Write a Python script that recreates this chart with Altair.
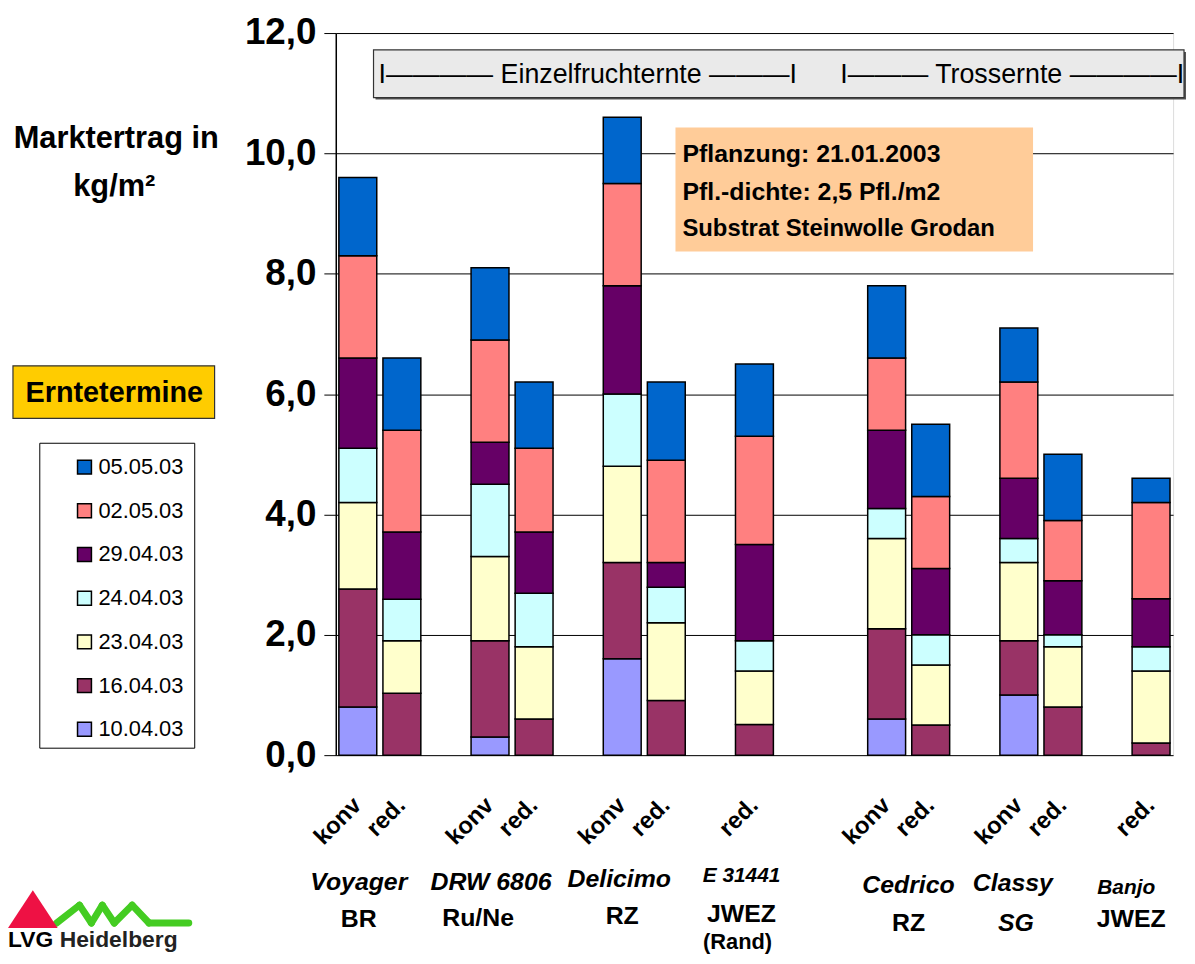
import altair as alt
import pandas as pd

FONT = "Liberation Sans"
OX, OY = 338, 30  # page position of plot origin

# ---------------- data ----------------
dates = ["10.04.03", "16.04.03", "23.04.03", "24.04.03", "29.04.03", "02.05.03", "05.05.03"]
colors = ["#9999FF", "#993366", "#FFFFCC", "#CCFFFF", "#660066", "#FF8080", "#0066CC"]

n_slots = 19
bar_slot = [0, 1, 3, 4, 6, 7, 9, 12, 13, 15, 16, 18]
bar_label = ["konv", "red.", "konv", "red.", "konv", "red.", "red.", "konv", "red.", "konv", "red.", "red."]

v_1004 = [0.8, 0.0, 0.3, 0.0, 1.6, 0.0, 0.0, 0.6, 0.0, 1.0, 0.0, 0.0]
v_1604 = [1.96, 1.03, 1.6, 0.6, 1.6, 0.91, 0.51, 1.5, 0.5, 0.9, 0.8, 0.2]
v_2304 = [1.44, 0.87, 1.4, 1.2, 1.6, 1.29, 0.89, 1.5, 1.0, 1.3, 1.0, 1.2]
v_2404 = [0.9, 0.69, 1.2, 0.89, 1.2, 0.59, 0.5, 0.5, 0.5, 0.4, 0.2, 0.4]
v_2904 = [1.5, 1.12, 0.7, 1.02, 1.8, 0.41, 1.6, 1.3, 1.1, 1.0, 0.9, 0.8]
v_0205 = [1.7, 1.69, 1.7, 1.39, 1.7, 1.7, 1.8, 1.2, 1.2, 1.6, 1.0, 1.6]
v_0505 = [1.3, 1.2, 1.2, 1.1, 1.1, 1.3, 1.2, 1.2, 1.2, 0.9, 1.1, 0.4]
series = [v_1004, v_1604, v_2304, v_2404, v_2904, v_0205, v_0505]

y_ticks = [0, 2, 4, 6, 8, 10, 12]

# variety labels: (line1, line2, line3, anchor slot)
var_line1 = ["Voyager", "DRW 6806", "Delicimo", "E 31441", "Cedrico", "Classy", "Banjo"]
var_line2 = ["BR", "Ru/Ne", "RZ", "JWEZ", "RZ", "SG", "JWEZ"]
var_line3 = ["", "", "", "(Rand)", "", "", ""]
var_slot = [0, 3, 6, 9, 12, 15, 18]

slot_ids = [f"s{i:02d}" for i in range(n_slots)]

rows = []
for i, (s, lab) in enumerate(zip(bar_slot, bar_label)):
    for di, (d, ser) in enumerate(zip(dates, series)):
        if ser[i] > 0:
            rows.append({"slot": slot_ids[s], "lab": lab, "date": d, "di": di, "value": ser[i]})
bars_df = pd.DataFrame(rows)
labels_df = pd.DataFrame({"slot": [slot_ids[s] for s in bar_slot], "lab": bar_label})

xscale = alt.Scale(domain=slot_ids, paddingInner=0.14, paddingOuter=0.07)
yscale = alt.Scale(domain=[0, 12], nice=False)

legend_dom = dates[::-1]
legend_rng = colors[::-1]

one = pd.DataFrame({"a": [0]})

bars = alt.Chart(bars_df).mark_bar(stroke="black", strokeWidth=1.5).encode(
    x=alt.X("slot:N", scale=xscale, sort=slot_ids,
            axis=alt.Axis(labels=False, title=None, ticks=True, tickBand="extent", tickSize=7,
                          tickColor="black", domainColor="black", domainWidth=1.5, grid=False)),
    y=alt.Y("value:Q", stack="zero", scale=yscale,
            axis=alt.Axis(values=y_ticks, title=None, grid=True, gridColor="black", gridWidth=1,
                          tickColor="black", tickSize=12, labelPadding=8,
                          labelExpr="replace(format(datum.value, '.1f'), '.', ',')",
                          labelFont=FONT, labelFontSize=37, labelFontWeight="bold",
                          labelColor="black", domainColor="black", domainWidth=1.5)),
    color=alt.Color("date:N", scale=alt.Scale(domain=legend_dom, range=legend_rng),
                    legend=alt.Legend(orient="none", legendX=74 - OX, legendY=456 - OY, title=None,
                                      symbolType="square", symbolSize=196, symbolStrokeColor="black",
                                      symbolStrokeWidth=1.5, labelFont=FONT, labelFontSize=22,
                                      labelColor="black", rowPadding=22, labelOffset=3, padding=0)),
    order=alt.Order("di:Q", sort="ascending"),
)


def rect(x1, y1, x2, y2, fill, stroke=None, sw=1):
    kw = dict(fill=fill)
    if stroke:
        kw.update(stroke=stroke, strokeWidth=sw)
    return alt.Chart(one).mark_rect(**kw).encode(
        x=alt.value(x1 - OX), x2=alt.value(x2 - OX), y=alt.value(y1 - OY), y2=alt.value(y2 - OY))


def txt(text, x, y, size, weight="bold", style="normal", align="center", baseline="middle", color="black"):
    return alt.Chart(one).mark_text(text=text, font=FONT, fontSize=size, fontWeight=weight,
                                    fontStyle=style, align=align, baseline=baseline, color=color).encode(
        x=alt.value(x - OX), y=alt.value(y - OY))


def slot_txt(text, slot, dx, y, size, weight="bold", style="normal"):
    df = pd.DataFrame({"slot": [slot_ids[slot]]})
    return alt.Chart(df).mark_text(text=text, font=FONT, fontSize=size, fontWeight=weight,
                                   fontStyle=style, align="center", baseline="middle", dx=dx,
                                   color="black").encode(
        x=alt.X("slot:N", scale=xscale, sort=slot_ids, axis=None), y=alt.value(y - OY))


# rotated konv / red. labels below each bar
bar_labels = alt.Chart(labels_df).mark_text(font=FONT, fontSize=24, fontWeight="bold", angle=315,
                                            align="right", baseline="middle", color="black").encode(
    x=alt.X("slot:N", scale=xscale, sort=slot_ids, axis=None), y=alt.value(804 - OY), text="lab:N")

layers = [bars, bar_labels]

# variety labels
l1_dx = [1, 1, -3, -13, 22, -6, -25]
l1_y = [885, 885, 882, 879, 888, 886, 891]
l1_size = [25, 25, 25, 21, 25, 25, 21]
l2_dx = [1, -12, 0, -13, 22, -3, -20]
l2_y = [922, 921, 919, 917, 926, 926, 922]
l2_style = ["normal", "normal", "normal", "normal", "normal", "italic", "normal"]
for k in range(len(var_line1)):
    layers.append(slot_txt(var_line1[k], var_slot[k], l1_dx[k], l1_y[k], l1_size[k], style="italic"))
    layers.append(slot_txt(var_line2[k], var_slot[k], l2_dx[k], l2_y[k], 25, style=l2_style[k]))
    if var_line3[k]:
        layers.append(slot_txt(var_line3[k], var_slot[k], -17, 945, 22))

# top banner
layers += [
    rect(378, 49, 1194, 97, "#555555"),
    rect(376, 47, 1192, 95, "#EAEAEA", stroke="#333333", sw=1.2),
    txt("I———— Einzelfruchternte ———I", 381, 72, 27, weight="normal", align="left"),
    txt("I——— Trossernte ————I", 846, 72, 27, weight="normal", align="left"),
]

# planting info box
layers += [
    rect(680, 125, 1040, 250, "#FFCC99"),
    txt("Pflanzung: 21.01.2003", 687, 152, 25, align="left"),
    txt("Pfl.-dichte: 2,5 Pfl./m2", 687, 190, 25, align="left"),
    txt("Substrat Steinwolle Grodan", 687, 227, 24, align="left"),
]

# y title
layers += [
    txt("Marktertrag in", 117, 137, 31),
    txt("kg/m²", 115, 185, 31),
]

# Erntetermine box + legend frame
layers += [
    rect(13, 365, 216, 418, "#FFCC00", stroke="#333333", sw=1.2),
    txt("Erntetermine", 115, 392, 29),
    rect(40, 443, 196, 750, "white", stroke="black", sw=1),
]

# logo
zig_x = [57, 80, 92, 103, 115, 133, 150, 190]
zig_y = [926, 908, 926, 908, 926, 908, 926, 926]
for k in range(len(zig_x) - 1):
    layers.append(alt.Chart(one).mark_rule(color="#44CC22", strokeWidth=7, strokeCap="round").encode(
        x=alt.value(zig_x[k] - OX), x2=alt.value(zig_x[k + 1] - OX),
        y=alt.value(zig_y[k] - OY), y2=alt.value(zig_y[k + 1] - OY)))
layers.append(alt.Chart(one).mark_point(shape="M-1,0.76L0,-0.76L1,0.76Z", size=2500, filled=True,
                                        color="#EE1144", opacity=1).encode(
    x=alt.value(33 - OX), y=alt.value(912 - OY)))
layers.append(txt("LVG", 8, 950, 23, align="left", baseline="alphabetic"))
layers.append(txt("Heidelberg", 60, 950, 23, align="left", baseline="alphabetic", color="#222222"))

chart = alt.layer(*layers).properties(
    width=843, height=727,
    padding={"left": OX - 8, "top": OY - 8, "right": 14, "bottom": 199},
    autosize=alt.AutoSizeParams(type="none"),
).configure_view(stroke="#555555", strokeWidth=1).configure(background="white")

chart.save("out.html", embed_options={"renderer": "svg", "actions": False})
